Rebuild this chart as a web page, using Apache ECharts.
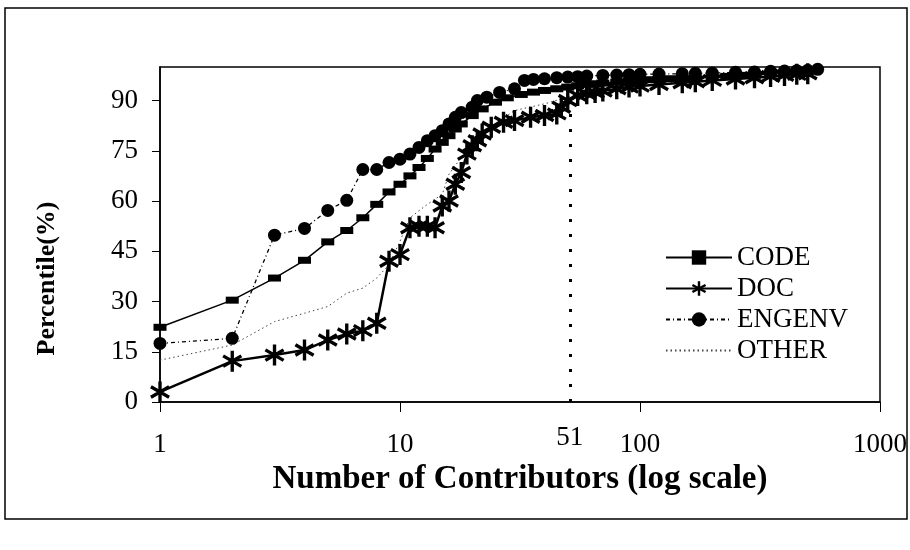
<!DOCTYPE html>
<html lang="en">
<head>
    <meta charset="UTF-8">
    <title>Contributors percentile</title>
    <script src="https://cdn.jsdelivr.net/npm/echarts@6.0.0/dist/echarts.min.js"></script>
    <style>
        body { margin: 0; padding: 0; background: #fff; }
        #chart { width: 910px; height: 550px; }
    </style>
</head>
<body>
    <div id="chart"></div>
    <script>
        // values: [contributors, percentile]
        var codeData = [
            [1, 22.3], [2, 30.4], [3, 37], [4, 42.3], [5, 47.8], [6, 51.2], [7, 55], [8, 59],
            [9, 62.7], [10, 65], [11, 67.5], [12, 70], [13, 72.7], [14, 75.5], [15, 77.5],
            [16, 79.5], [17, 81.5], [18, 83], [20, 85.5], [22, 87.5], [25, 89.5], [28, 90.8],
            [32, 91.8], [36, 92.5], [40, 93], [45, 93.5], [50, 94], [55, 94.4], [60, 94.8],
            [65, 95], [70, 95.2], [80, 95.5], [90, 95.8], [100, 96], [110, 96.2], [120, 96.3],
            [135, 96.5], [150, 96.6], [170, 96.8], [200, 97], [230, 97.2], [250, 97.3],
            [270, 97.5], [300, 97.6], [350, 97.9], [400, 98.2], [450, 98.5], [500, 98.7]
        ];
        var docData = [
            [1, 3], [2, 12.2], [3, 14], [4, 15.5], [5, 18.5], [6, 20.3], [7, 21.3], [8, 23.5],
            [9, 42], [10, 44], [11, 52], [12, 52.5], [13, 52.5], [14, 52], [15, 58.5], [16, 60],
            [17, 65], [18, 68.5], [19, 74], [20, 76.5], [21, 78], [22, 80], [24, 82], [27, 83.5],
            [30, 84], [35, 85], [40, 85.5], [45, 86], [47, 88], [50, 90], [55, 91.5], [60, 92],
            [65, 92.4], [70, 92.8], [80, 93.5], [90, 94], [100, 94.3], [120, 94.8], [150, 95.3],
            [170, 95.6], [200, 96], [250, 96.4], [300, 96.8], [350, 97.2], [400, 97.5],
            [450, 97.8], [500, 98]
        ];
        var engenvData = [
            [1, 17.5], [2, 19], [3, 49.8], [4, 51.8], [5, 57.2], [6, 60.2], [7, 69.4], [8, 69.4],
            [9, 71.5], [10, 72.5], [11, 74], [12, 76], [13, 78], [14, 79.5], [15, 81], [16, 83],
            [17, 85], [18, 86.4], [20, 88], [21, 90], [23, 91], [26, 92.4], [30, 93.5], [33, 96],
            [36, 96.3], [40, 96.5], [45, 96.8], [50, 97], [55, 97.1], [60, 97.3], [70, 97.5],
            [80, 97.6], [90, 97.7], [100, 97.8], [120, 97.9], [150, 98], [170, 98.1],
            [200, 98.2], [250, 98.4], [300, 98.5], [350, 98.7], [400, 98.8], [450, 98.9],
            [500, 99], [550, 99.3]
        ];
        var otherData = [
            [1, 12.5], [2, 17], [3, 24], [4, 26.5], [5, 28.5], [6, 32.5], [7, 34], [8, 37],
            [9, 41], [10, 48], [11, 55], [13, 59], [15, 62], [16, 68], [18, 73], [19, 75],
            [22, 80], [26, 84], [30, 87], [40, 89], [50, 91], [60, 92.5], [80, 93.5],
            [100, 94.5], [150, 95.5], [200, 96.3], [300, 97], [400, 97.7], [500, 98.3]
        ];
        var yTicks = [0, 15, 30, 45, 60, 75, 90];
        var cutoff = 51;
        var cutoffTop = 92;

        var serif = '"Liberation Serif", "Times New Roman", serif';
        // six-spoke asterisk, all spokes wound the same way
        var asterisk = 'path://M-1.6,-10L1.6,-10L1.6,10L-1.6,10Z' +
            'M-9.46,-3.61L-7.86,-6.39L9.46,3.61L7.86,6.39Z' +
            'M-7.86,6.39L-9.46,3.61L7.86,-6.39L9.46,-3.61Z';

        var chart = echarts.init(document.getElementById('chart'));

        chart.setOption({
            backgroundColor: '#fff',
            animation: false,
            graphic: [{
                type: 'rect',
                shape: { x: 5, y: 8, width: 902, height: 511 },
                style: { fill: 'none', stroke: '#000', lineWidth: 1.5 },
                silent: true
            }],
            grid: {
                left: 160, right: 30, top: 67, bottom: 148,
                show: true, borderColor: '#000', borderWidth: 1.5
            },
            legend: {
                left: 660, top: 239, orient: 'vertical',
                itemWidth: 66, itemHeight: 18, itemGap: 4,
                textStyle: { fontFamily: serif, fontSize: 27, color: '#000' },
                data: ['CODE', 'DOC', 'ENGENV', { name: 'OTHER', itemStyle: { opacity: 0 } }]
            },
            xAxis: {
                type: 'log', logBase: 10, min: 1, max: 1000,
                name: 'Number of Contributors (log scale)',
                nameLocation: 'middle', nameGap: 61, nameMoveOverlap: false,
                nameTextStyle: { fontFamily: serif, fontSize: 33, fontWeight: 'bold', color: '#000' },
                axisLine: { lineStyle: { color: '#000', width: 1.5 } },
                axisTick: { show: true, inside: false, length: 10, lineStyle: { color: '#000' } },
                minorTick: { show: false },
                splitLine: { show: false },
                axisLabel: {
                    fontFamily: serif, fontSize: 27, color: '#000', margin: 29,
                    formatter: function (v) { return String(Math.round(v)); }
                }
            },
            yAxis: {
                type: 'value', min: 0, max: 100,
                name: 'Percentile(%)',
                nameLocation: 'middle', nameGap: 100, nameRotate: 90,
                nameTextStyle: { fontFamily: serif, fontSize: 26, fontWeight: 'bold', color: '#000', padding: [0, 88, 0, 0] },
                axisLine: { show: true, lineStyle: { color: '#000', width: 1.5 } },
                axisTick: { show: true, length: 8, lineStyle: { color: '#000' }, customValues: yTicks },
                splitLine: { show: false },
                axisLabel: { fontFamily: serif, fontSize: 27, color: '#000', margin: 22, customValues: yTicks }
            },
            series: [
                {
                    name: 'OTHER', type: 'line', data: otherData, showSymbol: false, symbol: 'none',
                    lineStyle: { color: '#444', width: 1, type: [1.5, 3] },
                    itemStyle: { color: '#444' },
                    z: 1
                },
                {
                    name: 'ENGENV', type: 'line', data: engenvData, symbol: 'circle', symbolSize: 13,
                    lineStyle: { color: '#000', width: 1.3, type: [4, 3, 1, 3] },
                    itemStyle: { color: '#000' },
                    z: 2
                },
                {
                    name: 'CODE', type: 'line', data: codeData, symbol: 'rect', symbolSize: [13, 7],
                    lineStyle: { color: '#000', width: 1.5 },
                    itemStyle: { color: '#000' },
                    z: 3
                },
                {
                    name: 'DOC', type: 'line', data: docData, symbol: asterisk, symbolSize: 21,
                    symbolKeepAspect: true,
                    lineStyle: { color: '#000', width: 2.5 },
                    itemStyle: { color: '#000' },
                    z: 4,
                    markLine: {
                        silent: true, symbol: 'none',
                        lineStyle: { color: '#000', width: 3, type: [3, 12] },
                        label: {
                            show: true, position: 'start', distance: 22,
                            formatter: String(cutoff),
                            fontFamily: serif, fontSize: 27, color: '#000'
                        },
                        data: [[{ coord: [cutoff, 0] }, { coord: [cutoff, cutoffTop] }]]
                    }
                }
            ]
        });
    </script>
</body>
</html>
